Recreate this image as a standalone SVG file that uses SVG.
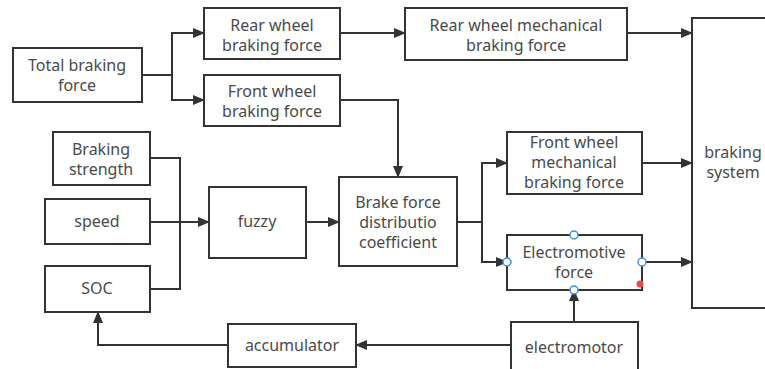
<svg xmlns="http://www.w3.org/2000/svg" width="765" height="369" viewBox="0 0 765 369">
<defs>
<marker id="ah" markerWidth="12" markerHeight="10" refX="11" refY="5" orient="auto" markerUnits="userSpaceOnUse">
<path d="M0,0 L12,5 L0,10 Z" fill="#333"/>
</marker>
<style>
.box{fill:#fff;stroke:#333;stroke-width:2}
.t{font-family:"Noto Sans","Open Sans","DejaVu Sans",sans-serif;font-size:16px;fill:#4a4a4a;text-anchor:middle}
.c{fill:none;stroke:#333;stroke-width:2}
.h{fill:#fff;stroke:#3d8fe6;stroke-width:1.5}
</style>
</defs>
<rect width="765" height="369" fill="#fff"/>
<g id="connectors">
<path class="c" d="M142,75 H172 V33 H204" marker-end="url(#ah)"/>
<path class="c" d="M172,75 V100 H204" marker-end="url(#ah)"/>
<path class="c" d="M340,33 H405" marker-end="url(#ah)"/>
<path class="c" d="M627,33 H692" marker-end="url(#ah)"/>
<path class="c" d="M340,100 H398 V177" marker-end="url(#ah)"/>
<path class="c" d="M150,158 H180 V289 H150"/>
<path class="c" d="M150,222 H209" marker-end="url(#ah)"/>
<path class="c" d="M306,222 H339" marker-end="url(#ah)"/>
<path class="c" d="M458,222 H482 V163 H507" marker-end="url(#ah)"/>
<path class="c" d="M482,222 V262 H507" marker-end="url(#ah)"/>
<path class="c" d="M642,163 H692" marker-end="url(#ah)"/>
<path class="c" d="M642,262 H692" marker-end="url(#ah)"/>
<path class="c" d="M574,322 V290" marker-end="url(#ah)"/>
<path class="c" d="M511,345 H356" marker-end="url(#ah)"/>
<path class="c" d="M228,345 H98 V312" marker-end="url(#ah)"/>
</g>
<g id="total">
<rect class="box" x="13" y="48" width="129" height="54"/>
<text class="t" x="77" y="71">Total braking</text>
<text class="t" x="77" y="91">force</text>
</g>
<g id="rear">
<rect class="box" x="204" y="8" width="136" height="51"/>
<text class="t" x="272" y="31">Rear wheel</text>
<text class="t" x="272" y="51">braking force</text>
</g>
<g id="front">
<rect class="box" x="204" y="75" width="136" height="51"/>
<text class="t" x="272" y="97">Front wheel</text>
<text class="t" x="272" y="117">braking force</text>
</g>
<g id="rearmech">
<rect class="box" x="405" y="8" width="222" height="52"/>
<text class="t" x="516" y="31">Rear wheel mechanical</text>
<text class="t" x="516" y="51">braking force</text>
</g>
<g id="system">
<rect class="box" x="692" y="18" width="90" height="290"/>
<text class="t" x="733" y="158">braking</text>
<text class="t" x="733" y="178">system</text>
</g>
<g id="strength">
<rect class="box" x="53" y="132" width="97" height="53"/>
<text class="t" x="101" y="155">Braking</text>
<text class="t" x="101" y="175">strength</text>
</g>
<g id="speed">
<rect class="box" x="45" y="199" width="105" height="45"/>
<text class="t" x="97" y="227">speed</text>
</g>
<g id="soc">
<rect class="box" x="45" y="266" width="105" height="46"/>
<text class="t" x="97" y="294">SOC</text>
</g>
<g id="fuzzy">
<rect class="box" x="209" y="187" width="97" height="71"/>
<text class="t" x="257" y="227">fuzzy</text>
</g>
<g id="coef">
<rect class="box" x="339" y="177" width="118" height="89"/>
<text class="t" x="398" y="208">Brake force</text>
<text class="t" x="398" y="228">distributio</text>
<text class="t" x="398" y="248">coefficient</text>
</g>
<g id="frontmech">
<rect class="box" x="507" y="132" width="135" height="62"/>
<text class="t" x="574" y="148">Front wheel</text>
<text class="t" x="574" y="168">mechanical</text>
<text class="t" x="574" y="188">braking force</text>
</g>
<g id="emf">
<rect class="box" x="507" y="235" width="135" height="55"/>
<text class="t" x="574" y="258">Electromotive</text>
<text class="t" x="574" y="278">force</text>
<circle class="h" cx="507" cy="262" r="4"/>
<circle class="h" cx="642" cy="262" r="4"/>
<circle class="h" cx="574" cy="235" r="4"/>
<circle class="h" cx="574" cy="290" r="4"/>
<circle cx="640" cy="284" r="3.5" fill="#e84a4a"/>
</g>
<g id="accumulator">
<rect class="box" x="228" y="324" width="128" height="43"/>
<text class="t" x="292" y="351">accumulator</text>
</g>
<g id="electromotor">
<rect class="box" x="511" y="322" width="127" height="52"/>
<text class="t" x="574" y="353">electromotor</text>
</g>
</svg>
